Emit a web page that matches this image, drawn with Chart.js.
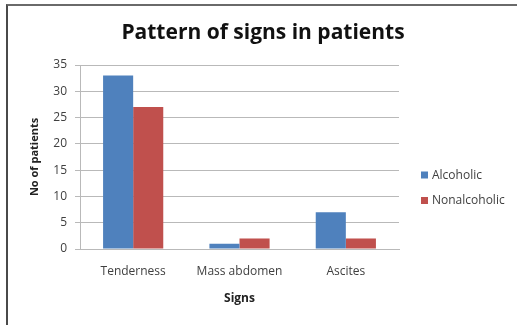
<!DOCTYPE html>
<html>
<head>
<meta charset="utf-8">
<title>Pattern of signs in patients</title>
<script src="https://cdn.jsdelivr.net/npm/chart.js@4.4.1/dist/chart.umd.min.js"></script>
<style>
  html, body { margin: 0; padding: 0; background: #fff; }
  #wrap { position: relative; width: 517px; height: 325px; overflow: hidden; }
  #frame { position: absolute; left: 6px; top: 4px; right: -4px; bottom: -4px;
           border-left: 2px solid #4a4a4a; border-top: 2px solid #6a6a6a; pointer-events: none; }
  canvas { position: absolute; left: 0; top: 0; }
</style>
</head>
<body>
<div id="wrap">
  <canvas id="chart" width="517" height="325"></canvas>
  <div id="frame"></div>
</div>
<script>
// Signs observed, patient counts per group
const categories = ['Tenderness', 'Mass abdomen', 'Ascites'];
const alcoholic = [33, 1, 7];
const nonalcoholic = [27, 2, 2];
const seriesNames = ['Alcoholic', 'Nonalcoholic'];
const yTicks = [0, 5, 10, 15, 20, 25, 30, 35];

const FONT = '"Open Sans", "Liberation Sans", sans-serif';
const TEXT = '#404040';
const GRID = '#b9b9b9';

// Legend to the right of the plot, drawn from the datasets
const sideLegend = {
  id: 'sideLegend',
  afterDraw(chart) {
    const ctx = chart.ctx;
    const x = 421, ys = [175, 200.5];
    ctx.save();
    ctx.font = '12px ' + FONT;
    ctx.textBaseline = 'middle';
    chart.data.datasets.forEach((ds, i) => {
      ctx.fillStyle = ds.backgroundColor;
      ctx.fillRect(x, ys[i] - 3.5, 7, 7);
      ctx.fillStyle = TEXT;
      ctx.fillText(ds.label, x + 11, ys[i] + 0.5);
    });
    ctx.restore();
  }
};

new Chart(document.getElementById('chart'), {
  type: 'bar',
  data: {
    labels: categories,
    datasets: [
      { label: seriesNames[0], data: alcoholic, backgroundColor: '#4f81bd' },
      { label: seriesNames[1], data: nonalcoholic, backgroundColor: '#c0504d' }
    ]
  },
  options: {
    responsive: false,
    animation: false,
    devicePixelRatio: 1,
    layout: { padding: { left: 9, right: 0, top: 0, bottom: 0 } },
    datasets: { bar: { categoryPercentage: 0.566, barPercentage: 1, borderWidth: 0 } },
    plugins: {
      legend: { display: false },
      tooltip: { enabled: false },
      title: {
        display: true,
        text: 'Pattern of signs in patients',
        color: '#111',
        font: { family: FONT, size: 21, weight: 'bold', lineHeight: 1.2 },
        padding: { top: 20.4, bottom: 19.4 }
      }
    },
    scales: {
      x: {
        grid: { display: false, drawTicks: false },
        border: { display: true, color: GRID, width: 1 },
        ticks: { color: TEXT, font: { family: FONT, size: 12 }, padding: 15, maxRotation: 0 },
        title: {
          display: true, text: 'Signs', color: '#222',
          font: { family: FONT, size: 12, weight: 'bold', lineHeight: 1.2 },
          padding: { top: 0, bottom: 19 }
        },
        afterFit(s) { s.height = 76; }
      },
      y: {
        min: 0, max: 35,
        afterBuildTicks(s) { s.ticks = yTicks.map(v => ({ value: v })); },
        grid: { color: GRID, lineWidth: 1, drawTicks: true, tickLength: 5, tickColor: GRID },
        border: { display: true, color: GRID, width: 1 },
        ticks: { color: TEXT, font: { family: FONT, size: 12 }, padding: 8 },
        title: {
          display: true, text: 'No of patients', color: '#222',
          font: { family: FONT, size: 11, weight: 'bold', lineHeight: 1.2 },
          padding: { top: 19.4, bottom: 0 }
        },
        afterFit(s) { s.width = 71; }
      },
      // empty column on the right that keeps room for the legend
      side: {
        type: 'linear', position: 'right', display: true,
        grid: { display: false, drawTicks: false },
        border: { display: false },
        ticks: { display: false },
        afterFit(s) { s.width = 118; }
      }
    }
  },
  plugins: [sideLegend]
});
</script>
</body>
</html>
